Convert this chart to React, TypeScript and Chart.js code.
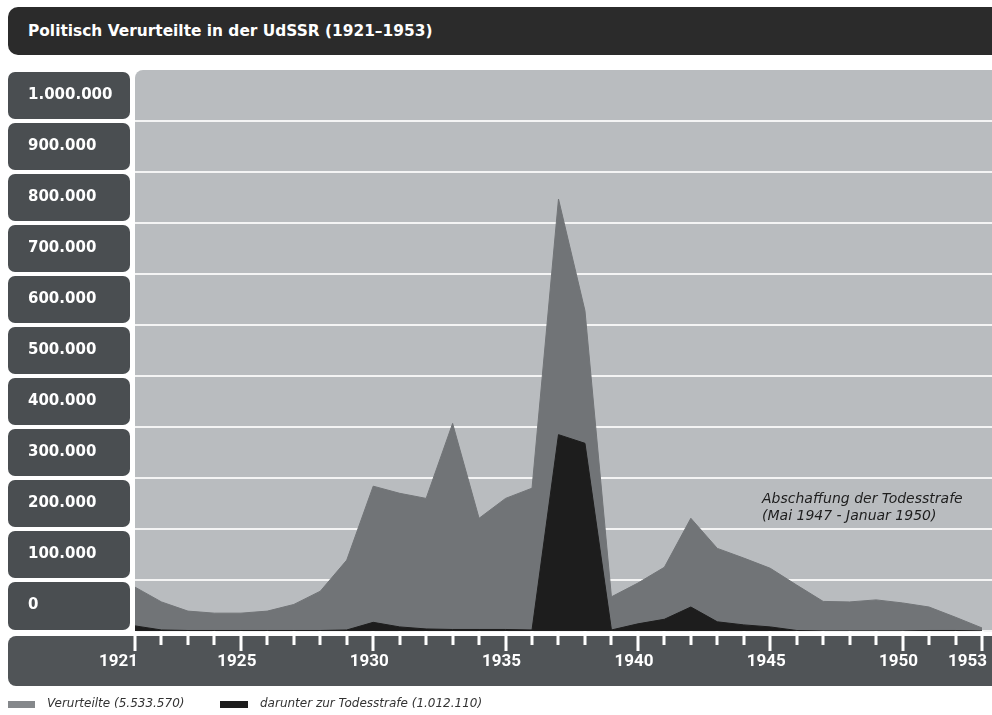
import React, { useEffect, useRef } from 'react';
import { Chart, registerables } from 'chart.js';

Chart.register(...registerables);

const titleText = 'Politisch Verurteilte in der UdSSR (1921–1953)';
const seriesNames = ['Verurteilte (5.533.570)', 'darunter zur Todesstrafe (1.012.110)'];

const years = [
  1921, 1922, 1923, 1924, 1925, 1926, 1927, 1928, 1929, 1930, 1931,
  1932, 1933, 1934, 1935, 1936, 1937, 1938, 1939, 1940, 1941, 1942,
  1943, 1944, 1945, 1946, 1947, 1948, 1949, 1950, 1951, 1952, 1953,
];

const verurteilte = [
  86000, 57000, 39000, 35000, 35000, 39000, 52000, 78000, 139000, 284000, 270000,
  260000, 407000, 221000, 260000, 280000, 847000, 628000, 67000, 94000, 125000, 221000,
  162000, 143000, 123000, 90000, 58000, 57000, 61000, 55000, 47000, 27000, 6000,
];

const todesstrafe = [
  10000, 2000, 1000, 1000, 1000, 1000, 1000, 1000, 2000, 17000, 8000,
  4000, 3000, 3000, 3000, 2000, 385000, 368000, 2000, 14000, 23000, 47000,
  18000, 12000, 8000, 1000, 0, 0, 0, 0, 1000, 1000, 0,
];

const xTickLabels = [1921, 1925, 1930, 1935, 1940, 1945, 1950, 1953];
const yTickValues = [0, 100000, 200000, 300000, 400000, 500000, 600000, 700000, 800000, 900000, 1000000];

const annotationLines = ['Abschaffung der Todesstrafe', '(Mai 1947 - Januar 1950)'];
const annotationX = 1944.69;
const annotationY = [259000, 225000];

const fmt = (v: number) => String(v).replace(/\B(?=(\d{3})+(?!\d))/g, '.');

const COLORS = {
  title: '#2b2b2b',
  yBox: '#4a4e51',
  xBar: '#505457',
  plotBg: '#b9bcbf',
  grid: '#f4f4f4',
  gray: '#717477',
  black: '#1d1d1d',
  legendGray: '#85888b',
};

const backgroundPlugin = {
  id: 'backgrounds',
  beforeDraw(chart: any) {
    const { ctx, chartArea: ca, scales } = chart;
    const x = scales.x;
    const y = scales.y;
    const step = yTickValues[1] - yTickValues[0];
    ctx.save();
    ctx.fillStyle = COLORS.yBox;
    for (const v of yTickValues) {
      const top = Math.max(y.getPixelForValue(v + step) + 2, ca.top);
      const bottom = v === yTickValues[0] ? ca.bottom - 1 : y.getPixelForValue(v) - 2;
      ctx.beginPath();
      ctx.roundRect(8, top, 122, bottom - top, 7);
      ctx.fill();
    }
    ctx.fillStyle = COLORS.xBar;
    ctx.beginPath();
    ctx.roundRect(8, ca.bottom + 5, 1000, 50, [8, 0, 0, 8]);
    ctx.fill();
    ctx.fillStyle = COLORS.plotBg;
    ctx.beginPath();
    ctx.roundRect(ca.left, ca.top, ca.right - ca.left + 10, ca.bottom - ca.top, [8, 0, 0, 0]);
    ctx.fill();
    ctx.restore();

    const items = x.getLabelItems ? x.getLabelItems() : null;
    if (items && items.length) {
      const nonEmpty = items.filter((it: any) => it.label !== '' && it.label != null);
      if (nonEmpty.length > 1) {
        const first = nonEmpty[0];
        const last = nonEmpty[nonEmpty.length - 1];
        if (!first._adj && first.options && first.options.translation) {
          first._adj = true;
          first.options.textAlign = 'right';
          first.options.translation[0] += 7;
        }
        if (!last._adj && last.options && last.options.translation) {
          last._adj = true;
          last.options.textAlign = 'right';
          last.options.translation[0] += 9;
        }
      }
    }
  },
  afterDraw(chart: any) {
    const { ctx, chartArea: ca, scales } = chart;
    const x = scales.x;
    ctx.save();
    ctx.fillStyle = '#ffffff';
    for (const yr of years) {
      const px = Math.round(x.getPixelForValue(yr));
      const major = xTickLabels.includes(yr);
      const len = major ? 20 : 14;
      ctx.fillRect(px - 1.5, ca.bottom, 3, len);
    }
    ctx.restore();
  },
};

const annotationPlugin = {
  id: 'annotationText',
  afterDatasetsDraw(chart: any) {
    const { ctx, scales } = chart;
    const xp = scales.x.getPixelForValue(annotationX);
    ctx.save();
    ctx.fillStyle = '#1e1e1e';
    ctx.font = 'italic 14px "DejaVu Sans"';
    ctx.textAlign = 'left';
    ctx.textBaseline = 'middle';
    annotationLines.forEach((t, i) => {
      ctx.fillText(t, xp, scales.y.getPixelForValue(annotationY[i]));
    });
    ctx.restore();
  },
};

export default function App() {
  const ref = useRef<HTMLCanvasElement>(null);

  useEffect(() => {
    const canvas = ref.current;
    if (!canvas) return;
    const chart = new Chart(canvas, {
      type: 'line',
      data: {
        datasets: [
          {
            label: seriesNames[0],
            data: years.map((yr, i) => ({ x: yr, y: verurteilte[i] })),
            backgroundColor: COLORS.gray,
            borderColor: COLORS.gray,
            borderWidth: 1,
            pointRadius: 0,
            fill: 'origin',
            tension: 0,
            order: 2,
          },
          {
            label: seriesNames[1],
            data: years.map((yr, i) => ({ x: yr, y: todesstrafe[i] })),
            backgroundColor: COLORS.black,
            borderColor: COLORS.black,
            borderWidth: 1,
            pointRadius: 0,
            fill: 'origin',
            tension: 0,
            order: 1,
          },
        ],
      },
      options: {
        responsive: false,
        animation: false,
        devicePixelRatio: 1,
        layout: { padding: { left: 28, top: 70, right: 0, bottom: 29 } },
        plugins: {
          legend: { display: false },
          tooltip: { enabled: false },
          title: { display: false },
        },
        scales: {
          x: {
            type: 'linear',
            min: years[0],
            max: years[years.length - 1] + 0.378,
            afterBuildTicks: (s: any) => {
              s.ticks = years.map((v) => ({ value: v }));
            },
            afterFit: (s: any) => {
              s.height = 55;
              s.paddingLeft = 0;
              s.paddingRight = 0;
            },
            border: { display: false },
            grid: {
              drawOnChartArea: false,
              drawTicks: true,
              tickLength: 20,
              tickWidth: 1,
              tickColor: 'rgba(0,0,0,0)',
            },
            ticks: {
              autoSkip: false,
              maxRotation: 0,
              minRotation: 0,
              padding: 1,
              labelOffset: -4,
              color: '#ffffff',
              font: { family: 'Roboto', weight: 'bold', size: 17 },
              callback: (v: any) => (xTickLabels.includes(Number(v)) ? String(v) : ''),
            },
          },
          y: {
            min: 0,
            max: 1100000,
            afterBuildTicks: (s: any) => {
              s.ticks = yTickValues.map((v) => ({ value: v }));
            },
            afterFit: (s: any) => {
              s.width = 107;
              s.paddingTop = 0;
              s.paddingBottom = 0;
            },
            border: { display: false },
            grid: { color: COLORS.grid, lineWidth: 2, drawTicks: false },
            ticks: {
              crossAlign: 'far',
              labelOffset: -25.5,
              color: '#ffffff',
              font: { family: 'DejaVu Sans', weight: 'bold', size: 15 },
              callback: (v: any) => fmt(Number(v)),
            },
          },
        },
      },
      plugins: [backgroundPlugin, annotationPlugin],
    } as any);
    return () => chart.destroy();
  }, []);

  const legendText: React.CSSProperties = {
    position: 'absolute',
    top: 696,
    height: 16,
    lineHeight: '16px',
    font: 'italic 12px "DejaVu Sans"',
    color: '#333',
    whiteSpace: 'nowrap',
  };

  return (
    <div
      style={{
        position: 'fixed',
        left: 0,
        top: 0,
        width: 992,
        height: 715,
        overflow: 'hidden',
        background: '#ffffff',
      }}
    >
      <canvas
        ref={ref}
        width={992}
        height={715}
        style={{ position: 'absolute', left: 0, top: 0, width: 992, height: 715 }}
      />
      <div
        style={{
          position: 'absolute',
          left: 8,
          top: 7,
          width: 1000,
          height: 48,
          background: COLORS.title,
          borderRadius: '10px 0 0 10px',
          color: '#ffffff',
          font: 'bold 15.4px "DejaVu Sans"',
          lineHeight: '48px',
          paddingLeft: 20,
          boxSizing: 'border-box',
          whiteSpace: 'nowrap',
        }}
      >
        {titleText}
      </div>
      <div style={{ position: 'absolute', left: 8, top: 701, width: 27, height: 7, background: COLORS.legendGray }} />
      <div style={{ ...legendText, left: 47 }}>{seriesNames[0]}</div>
      <div style={{ position: 'absolute', left: 220, top: 701, width: 28, height: 7, background: COLORS.black }} />
      <div style={{ ...legendText, left: 260 }}>{seriesNames[1]}</div>
    </div>
  );
}
